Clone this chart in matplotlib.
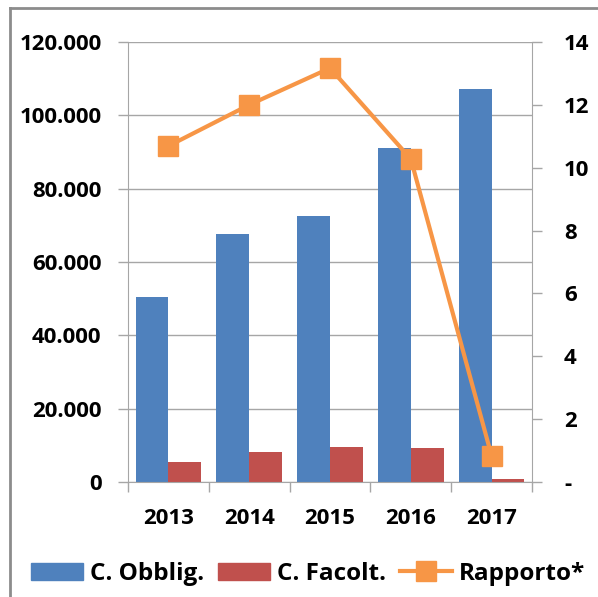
"""Bar + line combo chart: C. Obblig. / C. Facolt. (left) and Rapporto* (right)."""

import matplotlib.pyplot as plt
from matplotlib.lines import Line2D
from matplotlib.patches import Patch
from matplotlib.ticker import FuncFormatter

plt.rcParams["font.family"] = ["Open Sans", "DejaVu Sans"]
plt.rcParams["font.weight"] = "bold"

years = ["2013", "2014", "2015", "2016", "2017"]
obblig = [50450, 67600, 72500, 91100, 107200]
facolt = [5450, 8200, 9500, 9300, 800]
rapporto = [10.69, 12.0, 13.17, 10.28, 0.83]

BLUE = "#4f81bd"
RED = "#c0504d"
ORANGE = "#f79646"
GRID = "#a6a6a6"
FS = 16

W, H = 598, 597
fig = plt.figure(figsize=(W / 100, H / 100), dpi=100)

# outer chart frame (top and left edges visible)
fig.add_artist(Line2D([10 / W, 10 / W], [0, 1 - 8 / H], color="#8c8c8c", lw=2))
fig.add_artist(Line2D([10 / W, 1], [1 - 8 / H, 1 - 8 / H], color="#8c8c8c", lw=2))

left, right, top, bottom = 128, 532, 42, 482
ax = fig.add_axes([left / W, 1 - bottom / H, (right - left) / W, (bottom - top) / H])

x = list(range(len(years)))
bw = 0.405
ax.bar([i - bw / 2 for i in x], obblig, width=bw, color=BLUE, zorder=2)
ax.bar([i + bw / 2 for i in x], facolt, width=bw, color=RED, zorder=2)

ax.set_xlim(-0.5, len(years) - 0.5)
ax.set_ylim(0, 120000)
ax.set_yticks(range(0, 120001, 20000))
ax.yaxis.set_major_formatter(
    FuncFormatter(lambda v, _: "0" if v == 0 else f"{int(v):,}".replace(",", "."))
)
ax.set_xticks(x)
ax.set_xticklabels(years)
ax.set_xticks([i - 0.5 for i in range(len(years) + 1)], minor=True)
ax.tick_params(axis="x", which="major", length=0, pad=19, labelsize=FS)
ax.tick_params(axis="x", which="minor", length=7, width=1, color=GRID, direction="out")
ax.tick_params(axis="y", length=7, width=1, color=GRID, labelsize=FS, pad=12)
ax.grid(axis="y", color=GRID, lw=1, zorder=0)
for side in ["top", "right"]:
    ax.spines[side].set_visible(False)
for side in ["left", "bottom"]:
    ax.spines[side].set_color(GRID)

ax2 = ax.twinx()
ax2.plot(x, rapporto, color=ORANGE, lw=3, marker="s", markersize=14.5, zorder=3)
ax2.set_ylim(0, 14)
ax2.set_yticks(range(0, 15, 2))
ax2.yaxis.set_major_formatter(FuncFormatter(lambda v, _: "-" if v == 0 else f"{int(v)}"))
ax2.tick_params(axis="y", length=7, width=1, color=GRID, labelsize=FS, pad=16)
for side in ["top", "left", "bottom"]:
    ax2.spines[side].set_visible(False)
ax2.spines["right"].set_color(GRID)

handles = [
    Patch(color=BLUE),
    Patch(color=RED),
    Line2D([], [], color=ORANGE, lw=3, marker="s", markersize=14.5),
]
fig.legend(
    handles,
    ["C. Obblig.", "C. Facolt.", "Rapporto*"],
    loc="center",
    bbox_to_anchor=(0.515, 1 - 574 / H),
    ncol=3,
    frameon=False,
    fontsize=17.5,
    handlelength=2.15,
    handleheight=0.7,
    handletextpad=0.25,
    columnspacing=0.6,
)

fig.savefig("out.png", dpi=100)
